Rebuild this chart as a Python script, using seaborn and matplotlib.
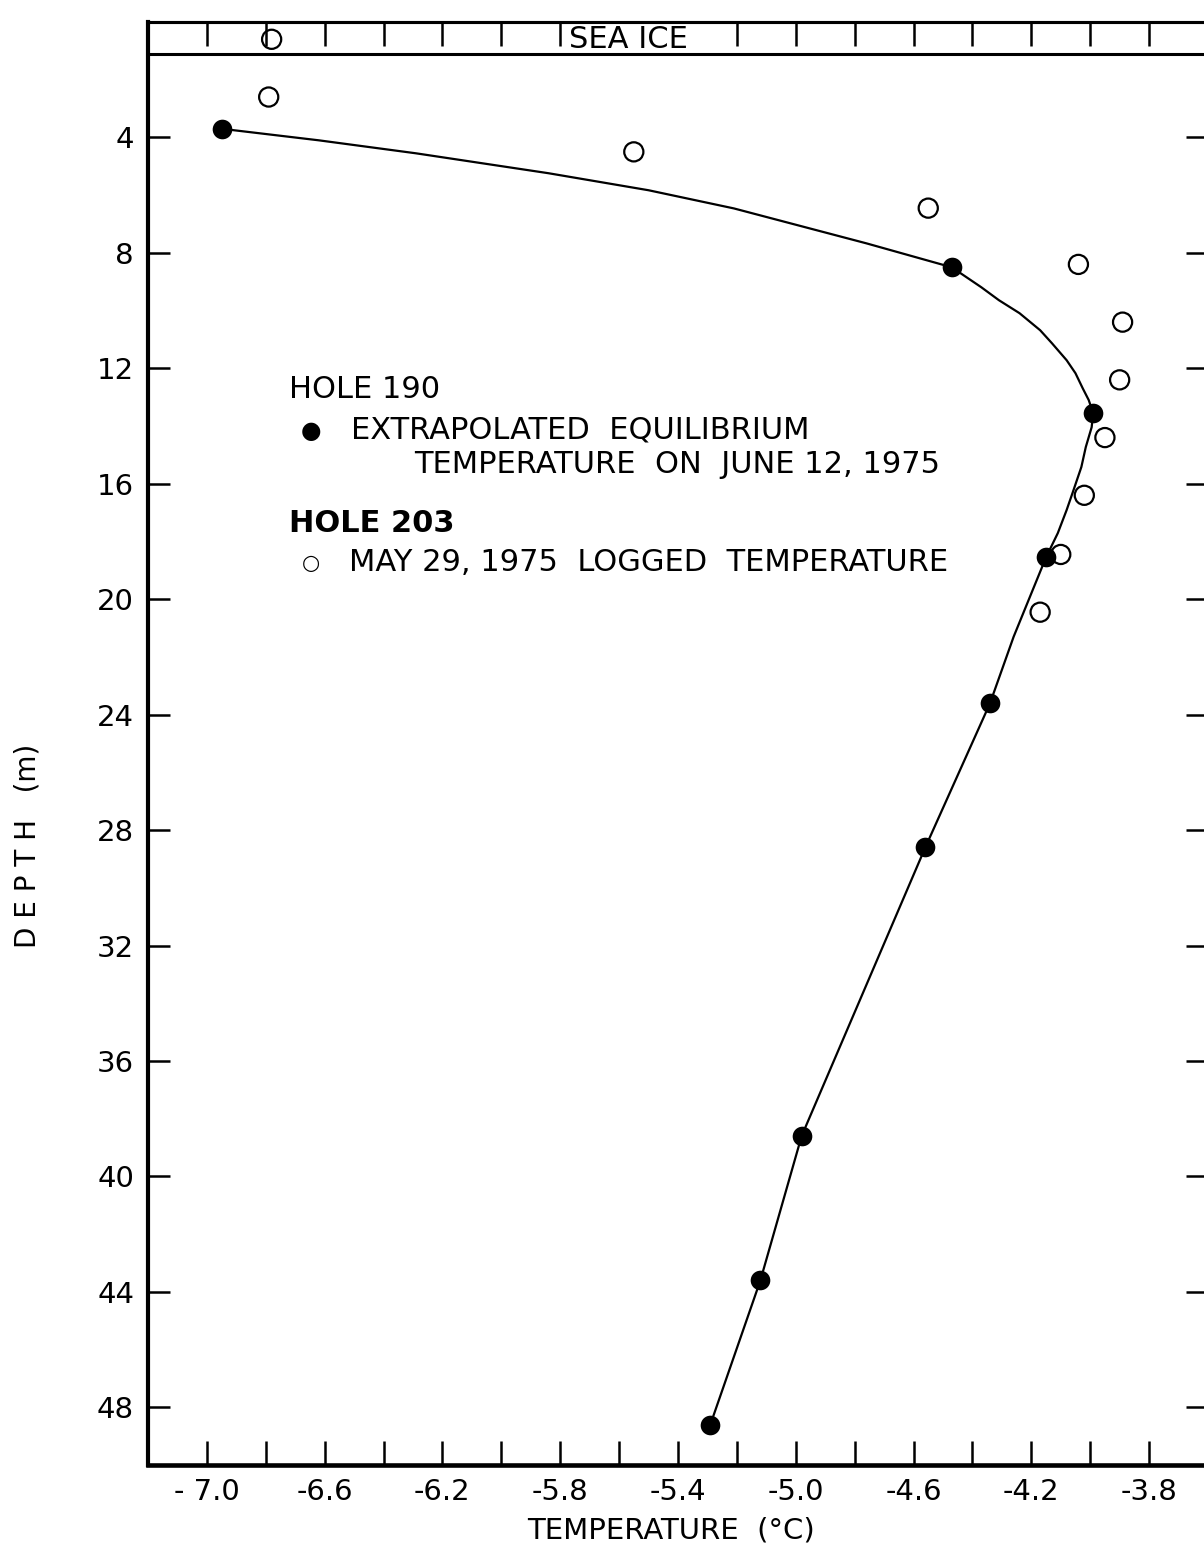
import matplotlib
matplotlib.use('Agg')
import matplotlib.pyplot as plt
import seaborn as sns
import pandas as pd
from matplotlib.ticker import FixedLocator

# hole 190 - extrapolated equilibrium temperature, june 12 1975
h190_temp = [-6.95, -4.47, -3.99, -4.15, -4.34, -4.56, -4.98, -5.12, -5.29]
h190_depth = [3.7, 8.5, 13.55, 18.55, 23.6, 28.6, 38.6, 43.6, 48.6]

# hole 203 - may 29 1975 logged temperature
h203_temp = [-6.78, -6.79, -5.55, -4.55, -4.04, -3.89, -3.90, -3.95, -4.02, -4.10, -4.17]
h203_depth = [0.6, 2.6, 4.5, 6.45, 8.4, 10.4, 12.4, 14.4, 16.4, 18.45, 20.45]

# hand drawn curve through the hole 190 points
curve_temp = [-6.95, -6.62, -6.29, -5.84, -5.50, -5.21, -4.76, -4.47, -4.37, -4.31,
              -4.24, -4.17, -4.13, -4.08, -4.05, -4.025, -4.005, -3.99, -3.995,
              -4.015, -4.03, -4.06, -4.08, -4.11, -4.15, -4.26, -4.34, -4.56,
              -4.98, -5.12, -5.29]
curve_depth = [3.7, 4.1, 4.55, 5.24, 5.83, 6.46, 7.67, 8.5, 9.19, 9.64,
               10.09, 10.68, 11.13, 11.72, 12.17, 12.7, 13.1, 13.55, 14.04,
               14.73, 15.42, 16.32, 16.91, 17.71, 18.55, 21.3, 23.6, 28.6,
               38.6, 43.6, 48.6]

x_major = [-7.0, -6.6, -6.2, -5.8, -5.4, -5.0, -4.6, -4.2, -3.8]
x_labels = ['- 7.0', '-6.6', '-6.2', '-5.8', '-5.4', '-5.0', '-4.6', '-4.2', '-3.8']
x_minor = [-6.8, -6.4, -6.0, -5.6, -5.2, -4.8, -4.4, -4.0]
top_ticks = [-7.0, -6.8, -6.6, -6.4, -6.2, -6.0, -5.8, -5.2, -5.0, -4.8, -4.6, -4.4, -4.2, -4.0, -3.8]
y_major = [4, 8, 12, 16, 20, 24, 28, 32, 36, 40, 44, 48]

sns.set_theme(style='ticks')
plt.rcParams['font.family'] = ['DejaVu Sans']
plt.rcParams.update({'text.color': 'black', 'axes.labelcolor': 'black',
                     'xtick.color': 'black', 'ytick.color': 'black',
                     'axes.edgecolor': 'black'})

fig = plt.figure(figsize=(12.04, 15.48), dpi=100)
ax = fig.add_axes([0.1229, 0.0536, 0.8804, 0.9322])

df190 = pd.DataFrame({'temp': h190_temp, 'depth': h190_depth})
df203 = pd.DataFrame({'temp': h203_temp, 'depth': h203_depth})
dfc = pd.DataFrame({'temp': curve_temp, 'depth': curve_depth})

sns.lineplot(data=dfc, x='temp', y='depth', sort=False, estimator=None,
             color='black', linewidth=1.6, ax=ax, zorder=3)
sns.scatterplot(data=df190, x='temp', y='depth', color='black', s=200,
                edgecolor='black', linewidth=0, ax=ax, zorder=4)
sns.scatterplot(data=df203, x='temp', y='depth', facecolor='none', s=190,
                edgecolor='black', linewidth=1.6, ax=ax, zorder=4)

ax.set_xlim(-7.2, -3.6)
ax.set_ylim(50, 0)

# sea ice band
ax.axhline(1.1, color='black', linewidth=2.2, zorder=2)
ax.text(-5.77, 0.6, 'SEA ICE', fontsize=22, ha='left', va='center', zorder=5)

ax.xaxis.set_major_locator(FixedLocator(x_major))
ax.xaxis.set_minor_locator(FixedLocator(x_minor))
ax.set_xticklabels(x_labels)
ax.set_yticks(y_major)
ax.set_yticklabels([str(v) for v in y_major])
ax.tick_params(axis='x', which='both', direction='in', length=17, width=1.8,
               top=False, bottom=True, labelsize=21, pad=9)
ax.tick_params(axis='y', which='major', direction='in', length=16, width=1.8,
               left=True, right=True, labelsize=21, pad=10)

top = ax.secondary_xaxis('top')
top.set_xticks(top_ticks)
top.set_xticklabels([])
top.tick_params(direction='in', length=17, width=1.8)
top.spines['top'].set_linewidth(2.2)

for side, lw in [('left', 3.0), ('bottom', 3.3), ('top', 2.2), ('right', 2.2)]:
    ax.spines[side].set_linewidth(lw)
    ax.spines[side].set_visible(True)

ax.set_xlabel('TEMPERATURE  (°C)', fontsize=21)
ax.xaxis.set_label_coords(0.493, -0.036)
ax.set_ylabel('D E P T H   (m)', fontsize=20)
ax.yaxis.set_label_coords(-0.100, 0.429)

# legend written inside the plot
fs = 22
ax.text(-6.72, 12.75, 'HOLE 190', fontsize=fs, va='center', ha='left')
ax.text(-6.646, 14.17, '●', fontsize=17, va='center', ha='center')
ax.text(-6.51, 14.14, 'EXTRAPOLATED  EQUILIBRIUM', fontsize=fs, va='center', ha='left')
ax.text(-6.296, 15.35, 'TEMPERATURE  ON  JUNE 12, 1975', fontsize=fs, va='center', ha='left')
ax.text(-6.72, 17.39, 'HOLE 203', fontsize=fs, va='center', ha='left', fontweight='semibold')
ax.text(-6.646, 18.74, '○', fontsize=15, va='center', ha='center')
ax.text(-6.517, 18.74, 'MAY 29, 1975  LOGGED  TEMPERATURE', fontsize=fs, va='center', ha='left')

fig.savefig('out.png', dpi=100, facecolor='white')
